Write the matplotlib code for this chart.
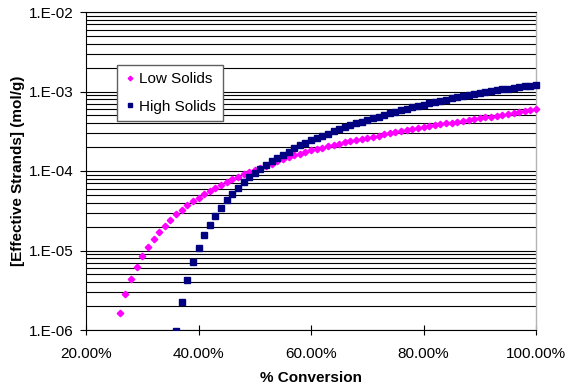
import math
import matplotlib.pyplot as plt
from matplotlib.ticker import FuncFormatter, LogLocator, NullFormatter, FixedLocator
from matplotlib.patches import Rectangle

plt.rcParams['font.family'] = ['Liberation Sans', 'DejaVu Sans']
plt.rcParams['font.size'] = 11

# conversion read every 1% off the chart
low_conv = [c / 100 for c in range(26, 101)]
low_strands = [
    1.62e-6, 2.81e-6, 4.39e-6, 6.19e-6, 8.45e-6, 1.11e-5, 1.40e-5, 1.71e-5, 2.05e-5, 2.44e-5,  # 26-35
    2.85e-5, 3.26e-5, 3.71e-5, 4.16e-5, 4.61e-5, 5.14e-5, 5.65e-5, 6.17e-5, 6.73e-5, 7.28e-5,  # 36-45
    7.87e-5, 8.48e-5, 9.08e-5, 9.71e-5, 1.035e-4, 1.10e-4, 1.17e-4, 1.24e-4, 1.32e-4, 1.40e-4,  # 46-55
    1.48e-4, 1.57e-4, 1.66e-4, 1.75e-4, 1.83e-4, 1.90e-4, 1.97e-4, 2.05e-4, 2.12e-4, 2.20e-4,  # 56-65
    2.29e-4, 2.37e-4, 2.45e-4, 2.53e-4, 2.62e-4, 2.70e-4, 2.79e-4, 2.89e-4, 2.98e-4, 3.08e-4,  # 66-75
    3.18e-4, 3.27e-4, 3.37e-4, 3.47e-4, 3.57e-4, 3.66e-4, 3.76e-4, 3.86e-4, 3.96e-4, 4.06e-4,  # 76-85
    4.17e-4, 4.28e-4, 4.39e-4, 4.49e-4, 4.59e-4, 4.71e-4, 4.82e-4, 4.93e-4, 5.05e-4, 5.18e-4,  # 86-95
    5.32e-4, 5.47e-4, 5.64e-4, 5.81e-4, 5.97e-4,  # 96-100
]

high_conv = [c / 100 for c in range(36, 101)]
high_strands = [
    9.8e-7, 2.23e-6, 4.29e-6, 7.16e-6, 1.08e-5, 1.55e-5, 2.09e-5, 2.72e-5, 3.45e-5, 4.32e-5,  # 36-45
    5.18e-5, 6.11e-5, 7.21e-5, 8.33e-5, 9.44e-5, 1.075e-4, 1.20e-4, 1.34e-4, 1.47e-4, 1.61e-4,  # 46-55
    1.75e-4, 1.92e-4, 2.10e-4, 2.28e-4, 2.44e-4, 2.61e-4, 2.78e-4, 2.95e-4, 3.14e-4, 3.34e-4,  # 56-65
    3.53e-4, 3.75e-4, 3.96e-4, 4.17e-4, 4.40e-4, 4.61e-4, 4.83e-4, 5.06e-4, 5.31e-4, 5.56e-4,  # 66-75
    5.81e-4, 6.06e-4, 6.31e-4, 6.57e-4, 6.84e-4, 7.11e-4, 7.38e-4, 7.66e-4, 7.93e-4, 8.21e-4,  # 76-85
    8.51e-4, 8.77e-4, 9.06e-4, 9.33e-4, 9.60e-4, 9.86e-4, 1.01e-3, 1.04e-3, 1.06e-3, 1.09e-3,  # 86-95
    1.11e-3, 1.14e-3, 1.16e-3, 1.18e-3, 1.20e-3,  # 96-100
]

x_ticks = [0.2, 0.4, 0.6, 0.8, 1.0]
y_decades = [1e-6, 1e-5, 1e-4, 1e-3, 1e-2]

fig = plt.figure(figsize=(5.66, 3.87), dpi=100)
ax = fig.add_axes([86 / 566, 1 - 330 / 387, 450 / 566, 318 / 387])

l1, = ax.plot(low_conv, low_strands, ls='none', marker='D', ms=3.3,
              color='#ff00ff', mec='#ff00ff', label='Low Solids', zorder=3)
l2, = ax.plot(high_conv, high_strands, ls='none', marker='s', ms=4,
              color='#000080', mec='#000080', label='High Solids', zorder=4)
# markers may overhang the right edge, but not the bottom
clip = Rectangle((0, 0), 1.03, 1.0, transform=ax.transAxes, fill=False)
for ln in (l1, l2):
    ln.set_clip_path(clip)

ax.set_yscale('log')
ax.set_ylim(1e-6, 1e-2)
ax.set_xlim(0.2, 1.0)
ax.yaxis.set_major_locator(FixedLocator(y_decades))
ax.yaxis.set_minor_locator(LogLocator(base=10, subs=range(2, 10)))
ax.yaxis.set_minor_formatter(NullFormatter())
ax.yaxis.set_major_formatter(FuncFormatter(lambda v, p: '1.E-%02d' % round(-math.log10(v))))
ax.xaxis.set_major_locator(FixedLocator(x_ticks))
ax.xaxis.set_major_formatter(FuncFormatter(lambda v, p: '%.2f%%' % (v * 100)))

ax.grid(axis='y', which='both', color='black', lw=0.8, zorder=1)
ax.tick_params(axis='y', which='major', direction='out', length=4, width=0.8, pad=5, labelsize=11)
ax.tick_params(axis='y', which='minor', length=0)
ax.tick_params(axis='x', direction='inout', length=6.5, width=0.8, pad=9, labelsize=11)

for s in ('left', 'bottom', 'top'):
    ax.spines[s].set_color('black')
    ax.spines[s].set_linewidth(0.8)
ax.spines['right'].set_color('#b4b4b4')
ax.spines['right'].set_linewidth(1.0)

ax.set_xlabel('% Conversion', fontweight='bold', fontsize=11, labelpad=7)
ax.set_ylabel('[Effective Strands] (mol/g)', fontweight='bold', fontsize=11, labelpad=3)

leg = ax.legend(loc='upper left', bbox_to_anchor=(117 / 566, 1 - 65 / 387),
                bbox_transform=fig.transFigure, frameon=True, fancybox=False,
                framealpha=1, edgecolor='#606060', fontsize=11, markerscale=0.7,
                handlelength=0.8, handletextpad=0.2, borderpad=0.45,
                labelspacing=0.9, borderaxespad=0)
leg.get_frame().set_linewidth(1.0)

fig.savefig('out.png', dpi=100)
